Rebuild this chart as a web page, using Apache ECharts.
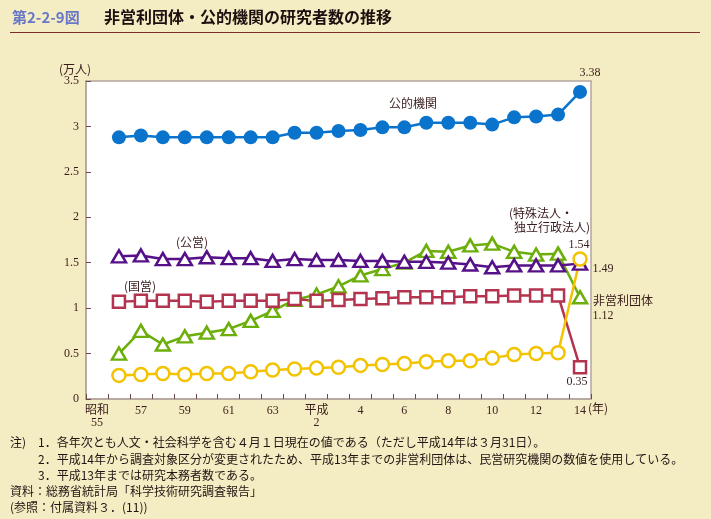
<!DOCTYPE html>
<html><head><meta charset="utf-8">
<script src="https://cdn.jsdelivr.net/npm/echarts@6/dist/echarts.min.js"></script>
<style>html,body{margin:0;padding:0;background:#f4ecc2;}#c{width:711px;height:519px;}</style>
</head><body><div id="c"></div>
<script>
// categories: 昭和55 .. 昭和63, 平成元 .. 平成14
var categories = ['昭和\n55','56','57','58','59','60','61','62','63','元','平成\n2','3','4','5','6','7','8','9','10','11','12','13','14'];
// values (万人), first year has no mark
var kotekiKikan = [null,2.88,2.90,2.88,2.88,2.88,2.88,2.88,2.88,2.93,2.93,2.95,2.96,2.99,2.99,3.04,3.04,3.04,3.02,3.10,3.11,3.13,3.38];
var koei        = [null,1.57,1.58,1.54,1.54,1.56,1.55,1.55,1.52,1.54,1.53,1.53,1.52,1.52,1.51,1.51,1.50,1.48,1.45,1.47,1.47,1.47,1.49];
var kokuei      = [null,1.07,1.08,1.08,1.08,1.07,1.08,1.08,1.08,1.10,1.08,1.09,1.10,1.11,1.12,1.12,1.12,1.13,1.13,1.14,1.14,1.14,0.35];
var tokushu     = [null,0.26,0.27,0.28,0.27,0.28,0.28,0.30,0.32,0.33,0.34,0.35,0.37,0.38,0.39,0.41,0.42,0.42,0.45,0.49,0.50,0.51,1.54];
var hieiri      = [null,0.50,0.75,0.60,0.69,0.73,0.77,0.86,0.97,1.09,1.15,1.24,1.36,1.43,1.50,1.63,1.62,1.69,1.71,1.62,1.59,1.60,1.12];
var yTicks = [0,0.5,1,1.5,2,2.5,3,3.5];

var NUMF = "'Liberation Serif','Noto Sans CJK JP',serif";
var TXT = '#3a1c1c';
var NOTE = '#221414';
var last = categories.length - 1;

function endLabel(offset){
  return {show:true, position:'inside', offset:offset, color:TXT, fontFamily:NUMF, fontSize:12,
    formatter:function(p){return p.dataIndex===last ? String(p.value) : '';}};
}
function ser(name, data, color, symbol, size, fill, offset){
  return {name:name, type:'line', data:data, symbol:symbol, symbolSize:size, showSymbol:true,
    connectNulls:false,
    lineStyle:{color:color, width:2.5},
    itemStyle:{color:fill, borderColor:color, borderWidth: fill===color?0:2.5},
    label:endLabel(offset), emphasis:{disabled:true}, animation:false};
}
function note(x, y, t){
  return {type:'text', left:x, top:y, style:{text:t, fill:NOTE, font:"12px 'Noto Sans CJK JP'"}};
}

var chart = echarts.init(document.getElementById('c'), null, {renderer:'canvas'});
chart.setOption({
  backgroundColor:'#f4ecc2',
  animation:false,
  grid:{left:86, right:120, top:81, bottom:120, show:true, backgroundColor:'#ffffff', borderColor:'#b4a59e', borderWidth:1.5},
  xAxis:{type:'category', data:categories, boundaryGap:true,
    axisLine:{show:true, lineStyle:{color:'#b4a59e', width:1.5}},
    axisTick:{show:true, inside:true, length:5, interval:0, alignWithLabel:false, lineStyle:{color:'#6a4a4a'}},
    axisLabel:{interval:1, color:TXT, fontFamily:NUMF, fontSize:12, lineHeight:12, margin:6},
    splitLine:{show:false}},
  yAxis:{type:'value', min:yTicks[0], max:yTicks[yTicks.length-1], interval:0.5,
    axisLine:{show:true, lineStyle:{color:'#b4a59e', width:1.5}},
    axisTick:{show:true, inside:true, length:5, lineStyle:{color:'#6a4a4a'}},
    axisLabel:{color:TXT, fontFamily:NUMF, fontSize:12, margin:7, formatter:function(v){return String(v);}},
    splitLine:{show:false}},
  series:[
    ser('非営利団体', hieiri, '#6cae0a', 'triangle', [14,12], '#ffffff', [23,19]),
    ser('国営', kokuei, '#b4334e', 'rect', 12, '#ffffff', [-3,15]),
    ser('公営', koei, '#561088', 'triangle', [14,12], '#ffffff', [23,5]),
    ser('特殊法人・独立行政法人', tokushu, '#f3c300', 'circle', 13, '#ffffff', [-1,-14]),
    ser('公的機関', kotekiKikan, '#0a74cc', 'circle', 14, '#0a74cc', [10,-19])
  ],
  graphic:[
    {type:'text', left:12, top:10, style:{text:'第2-2-9図', fill:'#6778c8', font:"bold 15px 'Noto Sans CJK JP'"}},
    {type:'text', left:104, top:9, style:{text:'非営利団体・公的機関の研究者数の推移', fill:'#1c1010', font:"bold 16px 'Noto Sans CJK JP'"}},
    {type:'line', shape:{x1:10, y1:32.5, x2:700, y2:32.5}, style:{stroke:'#7a2e2e', lineWidth:1}},
    {type:'text', left:59, top:63, style:{text:'(万人)', fill:TXT, font:"12px 'Noto Sans CJK JP'"}},
    {type:'text', left:588, top:402, style:{text:'(年)', fill:TXT, font:"12px 'Noto Sans CJK JP'"}},
    {type:'text', left:389, top:97, style:{text:'公的機関', fill:TXT, font:"12px 'Noto Sans CJK JP'"}},
    {type:'text', left:176, top:236, style:{text:'(公営)', fill:TXT, font:"12px 'Noto Sans CJK JP'"}},
    {type:'text', left:124, top:280, style:{text:'(国営)', fill:TXT, font:"12px 'Noto Sans CJK JP'"}},
    {type:'text', left:509, top:207, style:{text:'(特殊法人・', fill:TXT, font:"12px 'Noto Sans CJK JP'"}},
    {type:'text', left:514, top:221, style:{text:'独立行政法人)', fill:TXT, font:"12px 'Noto Sans CJK JP'"}},
    {type:'text', left:593, top:294, style:{text:'非営利団体', fill:TXT, font:"12px 'Noto Sans CJK JP'"}},
    note(10, 436, '注)'),
    note(38, 436, '1．各年次とも人文・社会科学を含む４月１日現在の値である（ただし平成14年は３月31日）。'),
    note(38, 453, '2．平成14年から調査対象区分が変更されたため、平成13年までの非営利団体は、民営研究機関の数値を使用している。'),
    note(38, 469, '3．平成13年までは研究本務者数である。'),
    note(10, 485, '資料：総務省統計局「科学技術研究調査報告」'),
    note(10, 501, '(参照：付属資料３．(11))')
  ]
});
</script></body></html>
